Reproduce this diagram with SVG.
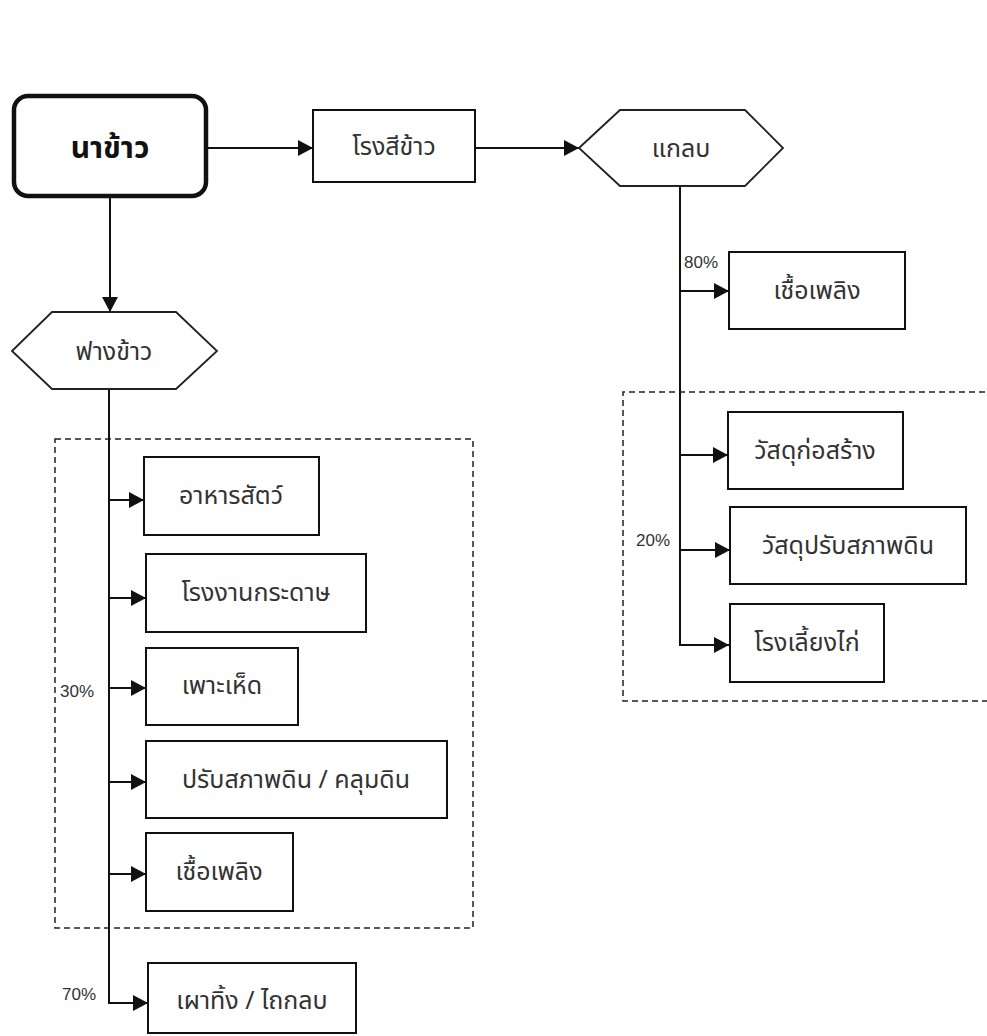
<svg xmlns="http://www.w3.org/2000/svg" width="987" height="1036" viewBox="0 0 987 1036">
  <style>
    .box { fill: #fff; stroke: #111; stroke-width: 2; }
    .start { fill: #fff; stroke: #111; stroke-width: 4.5; }
    .hex { fill: #fff; stroke: #222; stroke-width: 1.8; }
    .group { fill: none; stroke: #222; stroke-width: 1.5; stroke-dasharray: 6 4; }
    .link { fill: none; stroke: #111; stroke-width: 2; }
    .lbl { font-family: "Noto Sans", "Noto Sans Thai", "DejaVu Sans", sans-serif; font-size: 25px; fill: #333; text-anchor: middle; dominant-baseline: central; }
    .title { font-family: "Noto Sans", "Noto Sans Thai", "DejaVu Sans", sans-serif; font-size: 30px; font-weight: bold; fill: #111; text-anchor: middle; dominant-baseline: central; }
    .pct { font-family: "Liberation Sans", Arial, sans-serif; font-size: 17px; fill: #333; }
  </style>
  <defs>
    <marker id="arrow" markerUnits="userSpaceOnUse" markerWidth="16" markerHeight="16" refX="15" refY="8" orient="auto">
      <path d="M0,0 L15,8 L0,16 z" fill="#111"/>
    </marker>
  </defs>

  <rect width="987" height="1036" fill="#fff"/>

  <!-- dashed grouping frames -->
  <g id="groups">
    <rect class="group" x="55" y="439" width="418" height="489"/>
    <path class="group" d="M995,392 H623 V701 H995"/>
  </g>

  <!-- connectors -->
  <g id="connectors">
    <line class="link" x1="208" y1="148" x2="313" y2="148" marker-end="url(#arrow)"/>
    <line class="link" x1="475" y1="148" x2="579" y2="148" marker-end="url(#arrow)"/>
    <line class="link" x1="110" y1="197" x2="110" y2="312" marker-end="url(#arrow)"/>

    <!-- husk branches -->
    <path class="link" d="M680,186 V645 H729" marker-end="url(#arrow)"/>
    <line class="link" x1="680" y1="291" x2="729" y2="291" marker-end="url(#arrow)"/>
    <line class="link" x1="680" y1="455" x2="728" y2="455" marker-end="url(#arrow)"/>
    <line class="link" x1="680" y1="550" x2="730" y2="550" marker-end="url(#arrow)"/>

    <!-- straw branches -->
    <path class="link" d="M109,389 V1003 H148" marker-end="url(#arrow)"/>
    <line class="link" x1="109" y1="500" x2="144" y2="500" marker-end="url(#arrow)"/>
    <line class="link" x1="109" y1="598" x2="146" y2="598" marker-end="url(#arrow)"/>
    <line class="link" x1="109" y1="688" x2="146" y2="688" marker-end="url(#arrow)"/>
    <line class="link" x1="109" y1="782" x2="146" y2="782" marker-end="url(#arrow)"/>
    <line class="link" x1="109" y1="874" x2="146" y2="874" marker-end="url(#arrow)"/>
  </g>

  <!-- share labels -->
  <g id="shares">
    <text class="pct" x="684" y="268">80%</text>
    <text class="pct" x="636" y="546">20%</text>
    <text class="pct" x="60" y="697">30%</text>
    <text class="pct" x="62" y="1000">70%</text>
  </g>

  <g id="rice-field">
    <rect class="start" x="14" y="96" width="192" height="100" rx="14"/>
    <text class="title" x="110" y="146">นาข้าว</text>
  </g>

  <g id="rice-mill">
    <rect class="box" x="313" y="110" width="162" height="72"/>
    <text class="lbl" x="394" y="145">โรงสีข้าว</text>
  </g>

  <g id="husk">
    <polygon class="hex" points="579,148 620,110 745,110 783,148 745,186 620,186"/>
    <text class="lbl" x="681" y="147">แกลบ</text>
  </g>

  <g id="husk-fuel">
    <rect class="box" x="729" y="252" width="176" height="77"/>
    <text class="lbl" x="817" y="289">เชื้อเพลิง</text>
  </g>

  <g id="husk-building">
    <rect class="box" x="728" y="412" width="175" height="77"/>
    <text class="lbl" x="815" y="449">วัสดุก่อสร้าง</text>
  </g>

  <g id="husk-soil">
    <rect class="box" x="730" y="507" width="236" height="77"/>
    <text class="lbl" x="848" y="544">วัสดุปรับสภาพดิน</text>
  </g>

  <g id="husk-poultry">
    <rect class="box" x="730" y="604" width="154" height="78"/>
    <text class="lbl" x="807" y="641">โรงเลี้ยงไก่</text>
  </g>

  <g id="straw">
    <polygon class="hex" points="12,351 52,312 176,312 217,351 176,389 52,389"/>
    <text class="lbl" x="114" y="350">ฟางข้าว</text>
  </g>

  <g id="straw-feed">
    <rect class="box" x="144" y="457" width="175" height="78"/>
    <text class="lbl" x="231" y="494">อาหารสัตว์</text>
  </g>

  <g id="straw-paper">
    <rect class="box" x="146" y="554" width="220" height="78"/>
    <text class="lbl" x="256" y="591">โรงงานกระดาษ</text>
  </g>

  <g id="straw-mushroom">
    <rect class="box" x="146" y="648" width="152" height="77"/>
    <text class="lbl" x="222" y="684">เพาะเห็ด</text>
  </g>

  <g id="straw-mulch">
    <rect class="box" x="146" y="741" width="301" height="77"/>
    <text class="lbl" x="296" y="778">ปรับสภาพดิน / คลุมดิน</text>
  </g>

  <g id="straw-fuel">
    <rect class="box" x="146" y="833" width="147" height="78"/>
    <text class="lbl" x="219" y="870">เชื้อเพลิง</text>
  </g>

  <g id="straw-burn">
    <rect class="box" x="148" y="963" width="208" height="70"/>
    <text class="lbl" x="252" y="999">เผาทิ้ง / ไถกลบ</text>
  </g>
</svg>
